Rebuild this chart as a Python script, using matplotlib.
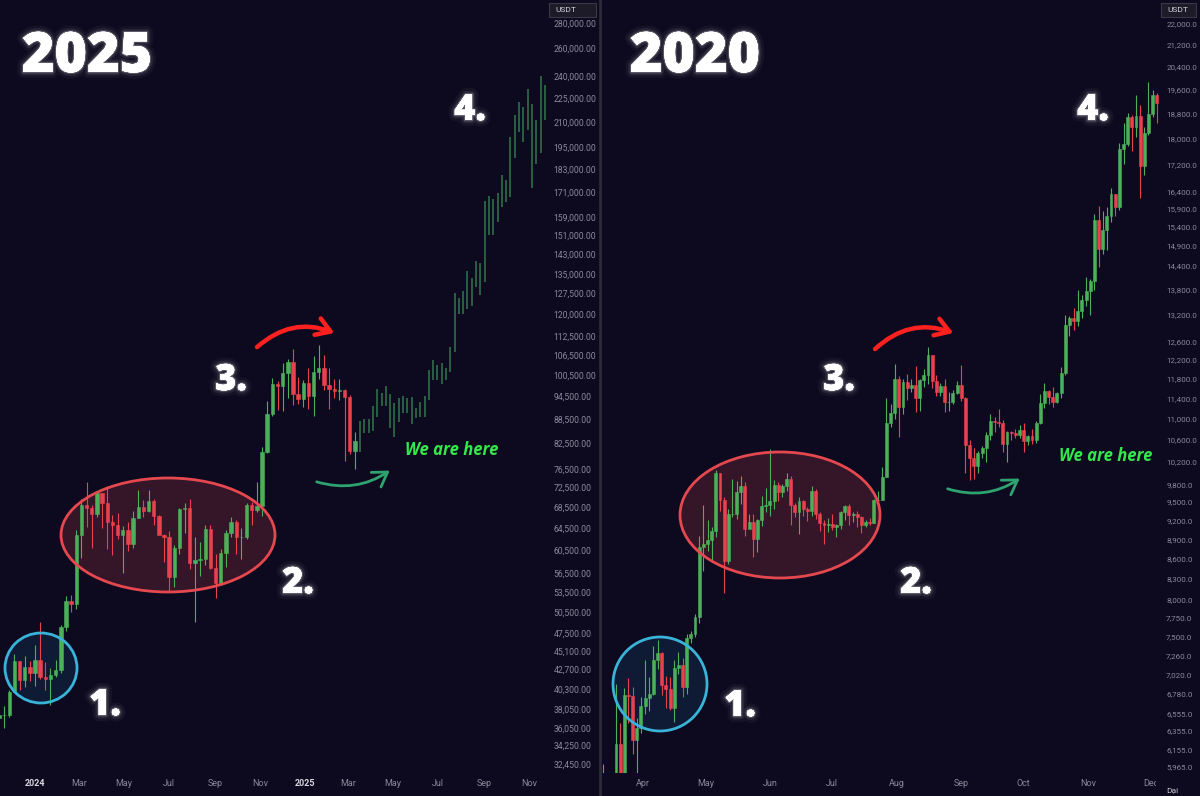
import matplotlib
matplotlib.use('Agg')
import numpy as np
import matplotlib.pyplot as plt
import matplotlib.patches as mpatches
import matplotlib.patheffects as pe
from matplotlib.lines import Line2D
from matplotlib.transforms import Bbox, TransformedBbox, IdentityTransform

plt.rcParams['font.family'] = ['Roboto', 'DejaVu Sans']

W, H = 1200, 796
BG = '#0d0a1f'
GREEN = '#4caf5a'
RED = '#e8424e'
GHOST = '#2f6e48'
TICK = '#8b8899'

# ---- 2025 panel: BTC weekly, Nov 2023 -> Mar 2025 (thousands USDT)
left_open0 = 37.07
left_close = [37.38, 37.45, 39.97, 43.78, 41.37, 42.99, 42.28, 43.93, 41.73, 41.58,
              42.03, 42.58, 48.30, 52.14, 51.73, 63.10, 68.96, 68.39, 67.21, 71.33,
              69.36, 65.66, 64.94, 63.12, 64.01, 61.48, 66.27, 68.51, 67.76, 69.65,
              66.64, 63.20, 62.77, 55.85, 60.80, 68.17, 68.25, 58.16, 58.71, 58.90,
              64.22, 57.30, 54.84, 59.99, 63.58, 65.60, 62.82, 62.85, 69.00, 67.93,
              68.78, 80.37, 89.85, 97.90, 97.28, 101.11, 104.46, 95.19, 93.72, 98.36,
              94.52, 101.33, 102.62, 97.70, 96.46, 96.12, 96.26, 94.27, 80.73, 83.00]
left_high = [38.40, 38.45, 40.25, 44.70, 43.80, 44.40, 43.80, 45.88, 49.05, 43.58,
             42.84, 43.88, 48.60, 52.82, 52.98, 64.00, 70.17, 73.78, 68.92, 71.77,
             71.35, 72.80, 66.87, 67.23, 64.73, 65.50, 67.70, 71.95, 70.00, 71.95,
             70.20, 66.96, 63.37, 63.86, 61.40, 68.37, 69.40, 70.08, 62.75, 61.80,
             65.00, 64.95, 59.80, 60.67, 64.13, 66.50, 66.00, 64.48, 69.40, 69.52,
             73.62, 81.50, 93.27, 99.59, 98.87, 104.09, 105.25, 108.35, 99.96, 99.00,
             102.72, 106.40, 109.59, 106.46, 102.50, 99.50, 99.48, 96.50, 95.00, 85.31]
left_low = [35.60, 36.00, 37.15, 39.97, 40.20, 40.53, 41.30, 40.75, 41.50, 40.28,
            38.55, 41.80, 42.26, 47.70, 50.52, 50.90, 59.00, 64.55, 60.78, 66.50,
            64.50, 60.66, 59.60, 62.40, 56.55, 60.19, 60.75, 66.30, 66.60, 67.60,
            65.08, 63.38, 58.40, 53.50, 54.26, 59.70, 63.45, 57.12, 49.00, 56.10,
            57.80, 57.20, 52.55, 54.58, 57.49, 62.70, 59.83, 58.90, 62.44, 65.06,
            67.48, 66.83, 80.22, 89.38, 90.79, 90.50, 94.15, 92.20, 92.50, 91.53,
            91.20, 89.26, 99.50, 96.20, 91.23, 94.08, 93.40, 78.26, 80.00, 76.60]

# projected path (ghost bars)
ghost_high = [88.0, 88.6, 88.6, 92.0, 96.6, 95.5, 97.5, 95.2, 92.6, 94.0, 94.7,
              94.0, 94.3, 91.3, 93.0, 94.7, 102.0, 105.0, 103.5, 104.0, 102.5, 109.0,
              127.5, 126.0, 128.5, 136.0, 133.5, 140.0, 139.5, 167.0, 169.5, 168.0,
              171.0, 180.0, 177.5, 201.0, 214.0, 222.5, 219.0, 231.0, 221.5, 211.0,
              240.0, 234.0]
ghost_low = [80.3, 85.0, 85.0, 85.4, 89.0, 92.0, 92.0, 86.2, 84.0, 87.6, 90.0,
             90.0, 87.2, 88.7, 89.0, 89.0, 93.5, 99.0, 99.0, 98.0, 99.0, 101.5,
             107.5, 120.0, 120.0, 122.0, 123.0, 130.0, 127.0, 132.0, 151.0, 151.0,
             157.0, 164.0, 166.5, 169.0, 189.0, 204.0, 198.0, 205.0, 173.5, 186.0,
             192.0, 211.0]

left_ticks = [280, 260, 240, 225, 210, 195, 183, 171, 159, 151, 143, 135, 127.5, 120,
              112.5, 106.5, 100.5, 94.5, 88.5, 82.5, 76.5, 72.5, 68.5, 64.5, 60.5,
              56.5, 53.5, 50.5, 47.5, 45.1, 42.7, 40.3, 38.05, 36.05, 34.25, 32.45]
left_date_days = [0, 60, 121, 182, 244, 305, 366, 425, 486, 547, 609, 670]
left_date_labels = ['2024', 'Mar', 'May', 'Jul', 'Sep', 'Nov',
                    '2025', 'Mar', 'May', 'Jul', 'Sep', 'Nov']

# ---- 2020 panel: BTC 2-day candles, Mar 13 -> Dec 5 2020 (thousands USDT)
right_open0 = 4.80
right_close = [5.17, 5.01, 5.40, 6.21, 5.82, 6.77, 6.76, 6.25, 6.39, 6.64,
               6.73, 6.78, 7.20, 7.29, 6.89, 6.84, 6.62, 7.10, 7.13, 6.87,
               7.48, 7.54, 7.77, 8.78, 8.83, 8.89, 9.03, 9.99, 9.54, 8.56,
               9.31, 9.31, 9.67, 9.78, 9.06, 9.18, 8.90, 9.20, 9.43, 9.45,
               9.52, 9.79, 9.67, 9.78, 9.89, 9.46, 9.34, 9.52, 9.38, 9.36,
               9.69, 9.30, 9.16, 9.12, 9.14, 9.09, 9.13, 9.34, 9.43, 9.29,
               9.30, 9.25, 9.13, 9.17, 9.16, 9.53, 9.54, 9.93, 10.91, 11.11,
               11.80, 11.23, 11.74, 11.60, 11.68, 11.41, 11.78, 11.87, 12.30, 11.75,
               11.52, 11.65, 11.33, 11.33, 11.50, 11.68, 11.41, 10.51, 10.26, 10.13,
               10.35, 10.44, 10.68, 10.95, 10.93, 10.92, 10.53, 10.74, 10.73, 10.69,
               10.78, 10.57, 10.67, 10.60, 10.92, 11.30, 11.54, 11.43, 11.32, 11.50,
               11.92, 12.97, 13.12, 13.07, 13.28, 13.56, 13.76, 14.02, 15.59, 14.83,
               15.33, 15.70, 16.32, 15.96, 17.65, 17.82, 18.70, 18.37, 18.72, 17.14,
               18.18, 18.77, 19.42, 19.15]
right_high = [6.00, 5.90, 5.50, 6.90, 6.45, 6.85, 6.97, 6.86, 6.50, 6.75,
              7.20, 6.99, 7.38, 7.46, 7.30, 7.00, 6.99, 7.20, 7.30, 7.22,
              7.54, 7.58, 7.80, 8.95, 9.45, 9.20, 9.10, 10.05, 10.00, 9.58,
              9.39, 9.90, 9.86, 9.95, 9.84, 9.30, 9.31, 9.22, 9.60, 9.74,
              10.43, 9.88, 9.84, 9.80, 9.99, 9.95, 9.49, 9.59, 9.54, 9.42,
              9.77, 9.72, 9.33, 9.20, 9.24, 9.30, 9.14, 9.36, 9.45, 9.47,
              9.33, 9.35, 9.27, 9.20, 9.24, 9.56, 9.68, 10.10, 11.40, 11.29,
              12.10, 11.85, 11.80, 11.90, 11.80, 12.07, 11.80, 12.00, 12.47, 12.30,
              11.88, 11.72, 11.80, 11.52, 11.57, 11.76, 12.08, 11.42, 10.60, 10.45,
              10.40, 10.48, 10.75, 11.10, 11.04, 11.18, 10.98, 10.77, 10.76, 10.80,
              10.87, 10.92, 10.69, 10.80, 10.96, 11.49, 11.72, 11.56, 11.63, 11.52,
              12.04, 13.20, 13.18, 13.35, 13.79, 13.66, 14.10, 14.07, 15.75, 15.97,
              15.83, 15.96, 16.49, 16.33, 17.86, 18.48, 18.82, 18.75, 19.42, 19.08,
              18.35, 19.86, 19.58, 19.48]
right_low = [3.78, 4.40, 4.95, 5.25, 5.75, 5.70, 6.45, 6.10, 5.86, 6.33,
             6.55, 6.58, 6.77, 7.08, 6.77, 6.62, 6.59, 6.46, 7.02, 6.75,
             6.78, 7.42, 7.50, 7.68, 8.42, 8.72, 8.55, 8.94, 9.35, 8.10,
             8.52, 9.25, 9.23, 9.47, 8.95, 9.07, 8.63, 8.70, 9.11, 9.34,
             9.27, 9.38, 9.52, 9.58, 9.69, 9.12, 9.25, 8.98, 9.27, 9.19,
             9.27, 9.22, 9.03, 8.83, 9.02, 9.05, 8.94, 9.06, 9.20, 9.12,
             9.18, 9.10, 9.00, 9.09, 9.12, 9.15, 9.45, 9.53, 9.93, 10.84,
             11.00, 10.65, 11.10, 11.36, 11.53, 11.12, 11.15, 11.63, 11.69, 11.60,
             11.45, 11.45, 11.12, 11.15, 11.28, 11.48, 11.35, 10.00, 9.88, 9.89,
             10.00, 10.26, 10.20, 10.60, 10.74, 10.84, 10.37, 10.20, 10.60, 10.63,
             10.64, 10.37, 10.50, 10.52, 10.54, 10.90, 11.20, 11.28, 11.23, 11.30,
             11.40, 11.88, 12.72, 12.85, 12.95, 13.13, 13.40, 13.20, 13.80, 14.35,
             14.70, 14.80, 15.55, 15.70, 15.87, 17.20, 17.75, 17.60, 18.05, 16.20,
             16.88, 18.10, 18.70, 18.50]

right_ticks = [22.0, 21.2, 20.4, 19.6, 18.8, 18.0, 17.2, 16.4, 15.9, 15.4, 14.9, 14.4,
               13.8, 13.2, 12.6, 12.2, 11.8, 11.4, 11.0, 10.6, 10.2, 9.8, 9.5, 9.2,
               8.9, 8.6, 8.3, 8.0, 7.75, 7.5, 7.26, 7.02, 6.78, 6.555, 6.355, 6.155,
               5.965]
right_date_days = [0, 30, 61, 91, 122, 153, 183, 214, 244]
right_date_labels = ['Apr', 'May', 'Jun', 'Jul', 'Aug', 'Sep', 'Oct', 'Nov', 'Dec']


def P(x, y):
    return (x / W, 1 - y / H)


def draw_candles(ax, x, open0, close, high, low, width):
    c = np.array(close)
    o = np.concatenate([[open0], c[:-1]])
    col = np.where(c >= o, GREEN, RED)
    ax.vlines(x, low, high, colors=col, lw=0.8, zorder=2)
    ax.bar(x, np.abs(c - o), bottom=np.minimum(o, c), width=width,
           color=col, edgecolor=col, lw=0.4, zorder=2)


def style_axis(ax, ticks, fmt, days, labels, ysize, ypad):
    ax.set_facecolor(BG)
    for s in ax.spines.values():
        s.set_visible(False)
    ax.set_yscale('log')
    ax.yaxis.tick_right()
    ax.set_yticks(ticks)
    ax.set_yticklabels([fmt.format(v * 1000) for v in ticks])
    ax.yaxis.set_minor_locator(matplotlib.ticker.NullLocator())
    ax.set_xticks(days)
    ax.set_xticklabels(labels)
    ax.tick_params(axis='both', length=0, colors=TICK, labelsize=6.5)
    ax.tick_params(axis='y', pad=ypad, labelsize=ysize)
    ax.tick_params(axis='x', pad=4)


fig = plt.figure(figsize=(12, 7.96), dpi=100)
fig.patch.set_facecolor(BG)

axL = fig.add_axes([0, 23 / H, 548 / W, 773 / H])
axR = fig.add_axes([601 / W, 23 / H, 561 / W, 773 / H])

# left panel
lx = -49 + 7 * np.arange(len(left_close))
draw_candles(axL, lx, left_open0, left_close, left_high, left_low, 4.6)
gx = 441 + 5.83 * np.arange(len(ghost_high))
axL.vlines(gx, ghost_low, ghost_high, colors=GHOST, lw=1.2, zorder=2)
style_axis(axL, left_ticks, '{:,.2f}', left_date_days, left_date_labels, 6.2, 4)
axL.set_xlim(-47.5, 696)
axL.set_ylim(31.6, 299.4)
for t in axL.get_xticklabels():
    if t.get_text() in ('2024', '2025'):
        t.set_color('#d8d6e0')
        t.set_fontweight('bold')

# right panel
rx = -19 + 2 * np.arange(len(right_close))
draw_candles(axR, rx, right_open0, right_close, right_high, right_low, 1.4)
style_axis(axR, right_ticks, '{:,.1f}', right_date_days, right_date_labels, 5.8, 3)
axR.set_xlim(-20.2, 249.5)
axR.set_ylim(5.903, 22.95)
clip = TransformedBbox(Bbox([[0, 0], [1156, 40]]), IdentityTransform())
for t in axR.get_xticklabels():
    t.set_clip_box(clip)
    t.set_clip_on(True)

# highlighted zones
zones = [
    (axL, (41, 668), 72, 70, '#1b5b8c', '#39b3d8'),
    (axR, (660, 684), 94, 94, '#1b5b8c', '#39b3d8'),
    (axL, (168, 535), 214, 114, '#d9434f', '#e5484f'),
    (axR, (780, 515), 200, 126, '#d9434f', '#e5484f'),
]
for ax, (cx, cy), w, h, fc, ec in zones:
    ax.add_patch(mpatches.Ellipse(P(cx, cy), w / W, h / H, transform=fig.transFigure,
                                  facecolor=fc, alpha=0.2, edgecolor='none', zorder=1))
    ax.add_patch(mpatches.Ellipse(P(cx, cy), w / W, h / H, transform=fig.transFigure,
                                  facecolor='none', edgecolor=ec, lw=2, zorder=3))

# divider between the two charts
fig.add_artist(Line2D([599.5 / W, 599.5 / W], [0, 1], transform=fig.transFigure,
                      color='#2c2a38', lw=2))

# USDT boxes
for x0, x1 in [(549, 596), (1161, 1196)]:
    fig.add_artist(mpatches.Rectangle(P(x0, 17), (x1 - x0) / W, 14 / H,
                                      transform=fig.transFigure, facecolor='#1d1b28',
                                      edgecolor='#3a3846', lw=0.8))
    fig.text(*P(x0 + 6, 10), 'USDT', fontsize=6, color='#d0cfd8', va='center')
fig.text(*P(1166, 790), 'Dại', fontsize=6, color='#c8c6d0', va='center')

# labels with a soft glow
glow = [pe.withStroke(linewidth=9, foreground=(1, 1, 1, 0.04)),
        pe.withStroke(linewidth=5, foreground=(1, 1, 1, 0.08)),
        pe.withStroke(linewidth=2, foreground=(1, 1, 1, 0.25)),
        pe.Normal()]
head = dict(color='white', ha='center', va='baseline', family=['Open Sans', 'DejaVu Sans'],
            fontweight='heavy', path_effects=glow)
fig.text(*P(87, 72), '2025', fontsize=40, **head)
fig.text(*P(695, 72), '2020', fontsize=40, **head)
steps = [(105, 715, '1.'), (298, 593, '2.'), (231, 390, '3.'), (470, 120, '4.'),
         (740, 716, '1.'), (916, 593, '2.'), (839, 390, '3.'), (1093, 120, '4.')]
for x, y, s in steps:
    fig.text(*P(x, y), s, fontsize=26, **head)

for x, y in [(452, 450), (1106, 456)]:
    fig.text(*P(x, y), 'We are here', fontsize=12,
             color='#34e84b', fontweight='bold', fontstyle='italic',
             family=['Open Sans', 'DejaVu Sans'], ha='center', va='center')

# arrows
arrows = [
    ((255, 349), (337, 334), -0.32, '#ff2020', 3.2),
    ((873, 351), (956, 334), -0.32, '#ff2020', 3.2),
    ((314, 481), (392, 469), 0.25, '#2ea36f', 2.0),
    ((945, 488), (1022, 477), 0.25, '#2ea36f', 2.0),
]
for a, b, rad, col, lw in arrows:
    fig.add_artist(mpatches.FancyArrowPatch(
        P(*a), P(*b), transform=fig.transFigure,
        connectionstyle=f'arc3,rad={rad}',
        arrowstyle='->,head_length=0.55,head_width=0.35',
        mutation_scale=18, color=col, lw=lw, capstyle='round'))

fig.savefig('out.png', dpi=100, facecolor=BG)
